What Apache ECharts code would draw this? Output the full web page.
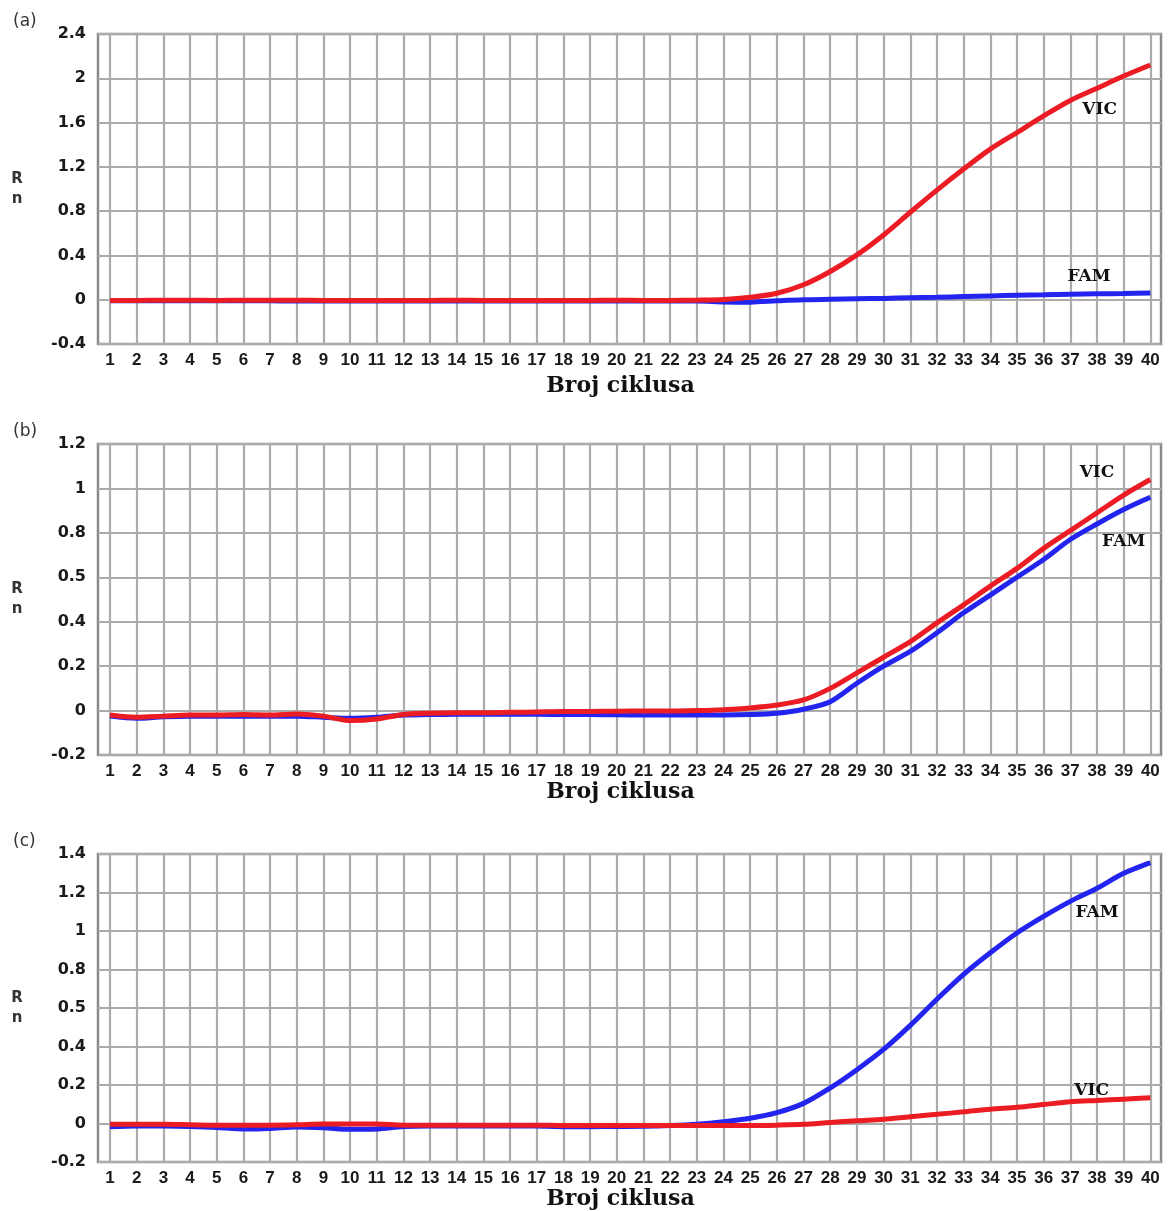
<!DOCTYPE html>
<html>
<head>
<meta charset="utf-8">
<script src="https://cdn.jsdelivr.net/npm/echarts@6/dist/echarts.min.js"></script>
<style>
html,body{margin:0;padding:0;background:#fff;}
#chart{width:1171px;height:1211px;}
</style>
</head>
<body>
<div id="chart"></div>
<script>
// ---------- DATA ----------
const cycles = [1,2,3,4,5,6,7,8,9,10,11,12,13,14,15,16,17,18,19,20,21,22,23,24,25,26,27,28,29,30,31,32,33,34,35,36,37,38,39,40];

// Panel (a)
const aVIC = [-0.006,-0.006,-0.004,-0.004,-0.006,-0.004,-0.004,-0.005,-0.006,-0.006,-0.006,-0.006,-0.006,-0.005,-0.006,-0.006,-0.006,-0.006,-0.006,-0.005,-0.006,-0.006,-0.004,0.002,0.022,0.058,0.135,0.255,0.405,0.585,0.79,0.99,1.18,1.36,1.51,1.66,1.80,1.91,2.02,2.12];
const aFAM = [-0.01,-0.01,-0.01,-0.01,-0.01,-0.01,-0.01,-0.012,-0.012,-0.012,-0.012,-0.012,-0.012,-0.012,-0.012,-0.012,-0.012,-0.012,-0.012,-0.012,-0.012,-0.012,-0.012,-0.02,-0.022,-0.01,0.0,0.004,0.008,0.012,0.017,0.022,0.028,0.034,0.04,0.045,0.05,0.053,0.056,0.06];

// Panel (b)
const bVIC = [-0.02,-0.03,-0.025,-0.02,-0.02,-0.018,-0.02,-0.015,-0.025,-0.045,-0.038,-0.018,-0.012,-0.01,-0.01,-0.008,-0.006,-0.004,-0.004,-0.003,-0.002,-0.002,0.0,0.004,0.012,0.025,0.048,0.10,0.17,0.24,0.31,0.395,0.476,0.56,0.64,0.73,0.81,0.89,0.97,1.04];
const bFAM = [-0.025,-0.035,-0.028,-0.025,-0.025,-0.025,-0.025,-0.025,-0.03,-0.035,-0.03,-0.02,-0.018,-0.016,-0.016,-0.016,-0.017,-0.018,-0.018,-0.019,-0.02,-0.02,-0.02,-0.02,-0.018,-0.012,0.006,0.04,0.123,0.2,0.266,0.35,0.44,0.52,0.60,0.68,0.77,0.84,0.905,0.96];

// Panel (c)
const cFAM = [-0.016,-0.012,-0.012,-0.015,-0.02,-0.028,-0.025,-0.018,-0.022,-0.03,-0.028,-0.015,-0.012,-0.012,-0.012,-0.012,-0.013,-0.016,-0.016,-0.015,-0.014,-0.01,-0.003,0.01,0.028,0.057,0.105,0.185,0.28,0.385,0.51,0.646,0.775,0.887,0.99,1.076,1.154,1.222,1.30,1.355];
const cVIC = [-0.004,-0.004,-0.004,-0.006,-0.008,-0.008,-0.008,-0.006,-0.002,-0.002,-0.002,-0.008,-0.008,-0.008,-0.008,-0.008,-0.008,-0.01,-0.01,-0.01,-0.01,-0.01,-0.01,-0.01,-0.01,-0.008,-0.004,0.006,0.015,0.022,0.036,0.048,0.061,0.075,0.085,0.099,0.113,0.12,0.127,0.134];

// Tick labels (as printed in the figure)
const aYTicks = ['-0.4','0','0.4','0.8','1.2','1.6','2','2.4'];
const bYTicks = ['-0.2','0','0.2','0.4','0.5','0.8','1','1.2'];
const cYTicks = ['-0.2','0','0.2','0.4','0.5','0.8','1','1.2','1.4'];

const panelNames = ['(a)','(b)','(c)'];
const xTitle = 'Broj ciklusa';
const yTitle = 'R\nn';

// Curve label anchors [cycle, value, text]
const aLabels = [[38.1, 1.72, 'VIC'], [37.7, 0.21, 'FAM']];
const bLabels = [[38.0, 1.07, 'VIC'], [39.0, 0.76, 'FAM']];
const cLabels = [[38.0, 1.095, 'FAM'], [37.8, 0.172, 'VIC']];

// ---------- CHART ----------
const RED = '#ec1c24';
const BLUE = '#2424f0';

const panels = [
  {top: 34, height: 310, min: -0.4, max: 2.4, step: 0.4, ticks: aYTicks, vic: aVIC, fam: aFAM, labels: aLabels, nameGap: 42},
  {top: 444, height: 311, min: -0.2, max: 1.2, step: 0.2, ticks: bYTicks, vic: bVIC, fam: bFAM, labels: bLabels, nameGap: 34},
  {top: 854, height: 310, min: -0.2, max: 1.4, step: 0.2, ticks: cYTicks, vic: cVIC, fam: cFAM, labels: cLabels, nameGap: 32}
];

const grids = [], xAxes = [], yAxes = [], series = [], titles = [];

panels.forEach((p, i) => {
  grids.push({left: 98, right: 10, top: p.top, height: p.height, show: true,
    borderColor: '#8a8a8a', borderWidth: 2.5, backgroundColor: '#fff'});
  xAxes.push({
    type: 'value', gridIndex: i, min: 0.55, max: 40.4,
    axisLine: {show: false}, 
    axisTick: {show: false, customValues: cycles},
    axisLabel: {customValues: cycles, margin: 8, color: '#1a1a1a', fontFamily: 'Liberation Sans', fontWeight: 'bold', fontSize: 17},
    splitLine: {show: true, lineStyle: {color: '#ababab', width: 2.2}},
    name: xTitle, nameLocation: 'middle', nameGap: p.nameGap,
    nameTextStyle: {fontFamily: 'DejaVu Serif', fontWeight: 'bold', fontSize: 22, color: '#111', verticalAlign: 'middle', padding: [0, 18, 0, 0]}
  });
  yAxes.push({
    type: 'value', gridIndex: i, min: p.min, max: p.max, interval: p.step,
    axisLine: {show: false}, axisTick: {show: false},
    axisLabel: {margin: 12, color: '#1a1a1a', fontFamily: 'DejaVu Sans', fontWeight: 'bold', fontSize: 16,
      formatter: (v) => p.ticks[Math.round((v - p.min) / p.step)]},
    splitLine: {show: true, lineStyle: {color: '#ababab', width: 2.2}},
    name: yTitle, nameLocation: 'middle', nameGap: 81, nameRotate: 0,
    nameTextStyle: {fontFamily: 'DejaVu Sans', fontWeight: 'bold', fontSize: 15, color: '#333', align: 'center', verticalAlign: 'middle', lineHeight: 20}
  });
  const mp = {
    symbol: 'rect', symbolSize: 1, itemStyle: {color: 'rgba(0,0,0,0)'},
    label: {show: true, position: 'inside', formatter: (d) => d.name, fontFamily: 'DejaVu Serif', fontWeight: 'bold', fontSize: 17, color: '#111'},
    data: p.labels.map(l => ({name: l[2], coord: [l[0], l[1]]}))
  };
  series.push({
    type: 'line', name: 'FAM', xAxisIndex: i, yAxisIndex: i, showSymbol: false, smooth: 0.3,
    lineStyle: {color: BLUE, width: 5}, itemStyle: {color: BLUE},
    data: cycles.map((c, k) => [c, p.fam[k]]), z: 3
  });
  series.push({
    type: 'line', name: 'VIC', xAxisIndex: i, yAxisIndex: i, showSymbol: false, smooth: 0.3,
    lineStyle: {color: RED, width: 5}, itemStyle: {color: RED},
    data: cycles.map((c, k) => [c, p.vic[k]]), z: 4,
    markPoint: mp
  });
  titles.push({text: panelNames[i], left: 8, top: p.top - 26,
    textStyle: {fontFamily: 'DejaVu Sans', fontWeight: 'normal', fontSize: 17, color: '#333'}});
});

const chart = echarts.init(document.getElementById('chart'), null, {renderer: 'canvas'});
chart.setOption({
  animation: false,
  backgroundColor: '#fff',
  title: titles,
  grid: grids,
  xAxis: xAxes,
  yAxis: yAxes,
  series: series
});
</script>
</body>
</html>
